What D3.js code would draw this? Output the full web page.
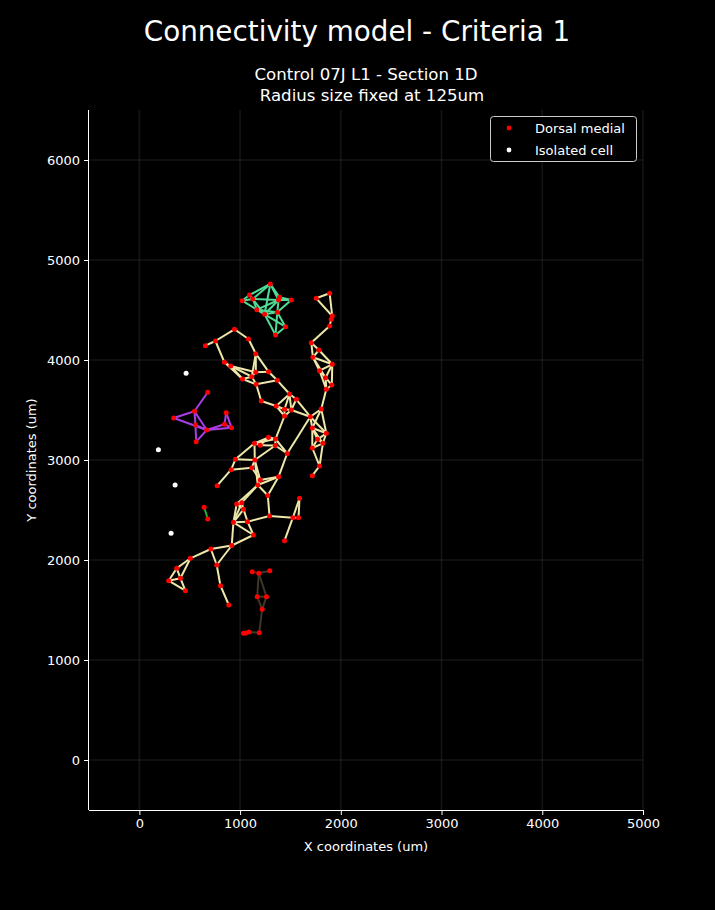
<!DOCTYPE html>
<html><head><meta charset="utf-8">
<script src="https://cdn.jsdelivr.net/npm/d3@7"></script>
<style>
html,body{margin:0;padding:0;background:#000;}
svg{display:block;font-family:"DejaVu Sans",sans-serif;}
</style></head>
<body>
<script>
// ---------- DATA ----------
const xTicks = [0, 1000, 2000, 3000, 4000, 5000];
const yTicks = [0, 1000, 2000, 3000, 4000, 5000, 6000];
const legendLabels = ["Dorsal medial", "Isolated cell"];

// connected component: top cluster (green)
const greenNodes = [[1300,4760],[1093,4650],[1021,4593],[1126,4610],[1392,4627],[1382,4600],[1508,4600],[1166,4503],[1243,4457],[1369,4477],[1451,4333],[1352,4250]];
const greenEdges = [[0,1],[0,3],[0,4],[0,5],[0,8],[1,2],[1,3],[2,3],[2,7],[3,5],[3,7],[3,8],[4,6],[5,6],[5,7],[5,8],[5,9],[6,9],[7,8],[7,9],[8,9],[8,10],[8,11],[9,10],[9,11],[10,11]];

// main component (pale yellow)
const yellowNodes = [
 [1756,4617],[1889,4667],[1915,4440],[1905,4407],[1889,4340],[1707,4173],[1782,4100],[1723,4027],[1915,3957],[1789,3893],
 [1849,3823],[1911,3750],[1856,3707],[1806,3510],[1697,3433],[1717,3320],[1856,3267],[1769,3207],[1822,3167],[1717,3120],
 [1789,2940],[1717,2843],[656,4143],[755,4190],[944,4307],[1083,4210],[1156,4063],[845,3977],[907,3940],[1024,3810],
 [1116,3833],[1156,3877],[1282,3883],[1160,3757],[1369,3797],[1491,3660],[1558,3607],[1210,3590],[1359,3540],[1441,3507],
 [1508,3500],[1441,3440],[1143,3167],[1282,3227],[1352,3210],[1200,3147],[1349,3145],[1468,3065],[954,3007],[1146,3000],
 [911,2903],[1116,2923],[772,2743],[1200,2800],[1382,2833],[1176,2750],[1275,2645],[1590,2617],[966,2560],[1017,2573],
 [1034,2507],[934,2377],[1074,2383],[1292,2440],[1524,2423],[1580,2423],[1133,2250],[917,2145],[1441,2193],[710,2110],
 [507,2017],[768,1950],[371,1917],[408,1817],[291,1793],[457,1693],[805,1743],[888,1550]];
const yellowEdges = [
 [0,1],[0,2],[1,2],[2,3],[3,4],[4,5],[5,6],[5,7],[6,7],[6,8],[7,8],[7,9],[7,10],[8,9],[8,10],[8,11],[9,10],[9,12],[10,11],[10,12],[11,12],
 [12,13],[13,14],[13,15],[13,16],[14,15],[14,16],[15,16],[15,17],[15,18],[15,19],[16,17],[16,18],[17,18],[17,19],[18,19],[19,20],[18,20],[20,21],
 [14,36],[14,40],[14,47],
 [22,23],[23,24],[24,25],[25,26],[23,27],[27,28],[27,29],[28,29],[28,30],[28,31],[26,30],[26,31],[26,32],[29,30],[29,33],[30,31],[30,33],[31,32],
 [32,34],[33,34],[33,37],[34,35],[35,36],[35,38],[35,39],[35,40],[36,40],[37,38],[38,39],[38,41],[39,40],[39,41],[40,41],[41,44],
 [42,43],[42,44],[42,45],[42,48],[42,49],[43,44],[43,45],[44,46],[45,46],[44,47],[46,47],[46,49],[48,49],[48,50],[50,51],[49,51],[49,53],[51,53],[50,52],
 [47,54],[53,54],[55,54],[53,55],[49,55],[55,56],[54,56],[56,63],[55,58],[55,59],[58,59],[58,60],[59,60],[58,61],[59,61],[60,61],[60,62],[61,62],
 [61,66],[62,66],[62,63],[63,64],[64,65],[64,57],[65,57],[64,68],[61,67],[66,67],[67,69],[69,70],[69,71],[67,71],
 [70,72],[70,73],[72,74],[72,73],[74,73],[74,75],[73,75],[71,76],[76,77]];

// purple component
const purpleNodes = [[679,3677],[547,3487],[341,3420],[557,3350],[669,3300],[564,3183],[862,3473],[845,3357],[915,3323]];
const purpleEdges = [[0,1],[1,2],[2,4],[1,3],[1,4],[3,4],[3,5],[4,5],[4,7],[4,8],[7,8],[6,7],[6,8]];

// small green pair
const pairNodes = [[643,2527],[679,2410]];
const pairEdges = [[0,1]];

// dark bottom component
const darkNodes = [[1120,1883],[1186,1867],[1295,1893],[1170,1633],[1262,1633],[1219,1507],[1034,1267],[1054,1270],[1087,1280],[1190,1273]];
const darkEdges = [[0,1],[1,2],[1,3],[1,4],[3,4],[3,5],[4,5],[5,9],[9,8],[8,7],[7,6]];

// isolated cells
const isolatedCells = [[464,3867],[189,3103],[355,2750],[315,2267]];

// ---------- CHART ----------
const W = 715, H = 910;
const svg = d3.select("body").append("svg").attr("width", W).attr("height", H);
svg.append("rect").attr("width", W).attr("height", H).attr("fill", "#000");

const x = d3.scaleLinear().domain([-500, 5000]).range([89, 643]);
const y = d3.scaleLinear().domain([-500, 6500]).range([810, 110]);

// grid
const g = svg.append("g");
g.selectAll(".gx").data(xTicks).join("line")
  .attr("x1", d => x(d)).attr("x2", d => x(d)).attr("y1", 110).attr("y2", 810)
  .attr("stroke", "#fff").attr("stroke-opacity", 0.08).attr("stroke-width", 1.6);
g.selectAll(".gy").data(yTicks).join("line")
  .attr("y1", d => y(d)).attr("y2", d => y(d)).attr("x1", 89).attr("x2", 643)
  .attr("stroke", "#fff").attr("stroke-opacity", 0.08).attr("stroke-width", 1.6);

// components
const comps = [
  {nodes: yellowNodes, edges: yellowEdges, color: "#eee8aa"},
  {nodes: greenNodes, edges: greenEdges, color: "#4fdc96"},
  {nodes: purpleNodes, edges: purpleEdges, color: "#aa3ee6"},
  {nodes: pairNodes, edges: pairEdges, color: "#1fae3c"},
  {nodes: darkNodes, edges: darkEdges, color: "#3e3628"}
];
comps.forEach(c => {
  g.append("g").selectAll("line").data(c.edges).join("line")
    .attr("x1", e => x(c.nodes[e[0]][0])).attr("y1", e => y(c.nodes[e[0]][1]))
    .attr("x2", e => x(c.nodes[e[1]][0])).attr("y2", e => y(c.nodes[e[1]][1]))
    .attr("stroke", c.color).attr("stroke-width", 2).attr("stroke-linecap", "butt");
});
comps.forEach(c => {
  g.append("g").selectAll("circle").data(c.nodes).join("circle")
    .attr("cx", d => x(d[0])).attr("cy", d => y(d[1])).attr("r", 2.5).attr("fill", "#ff0000");
});
g.append("g").selectAll("circle").data(isolatedCells).join("circle")
  .attr("cx", d => x(d[0])).attr("cy", d => y(d[1])).attr("r", 2.5).attr("fill", "#ffffff");

// axes
const xAxis = svg.append("g").attr("transform", "translate(0,810)")
  .call(d3.axisBottom(x).tickValues(xTicks).tickSize(5).tickPadding(4).tickFormat(d3.format("d")));
const yAxis = svg.append("g").attr("transform", "translate(89,0)")
  .call(d3.axisLeft(y).tickValues(yTicks).tickSize(5).tickPadding(4).tickFormat(d3.format("d")));
[xAxis, yAxis].forEach(a => {
  a.select(".domain").attr("stroke", "#fff").attr("stroke-width", 1);
  a.selectAll(".tick line").attr("stroke", "#fff");
  a.selectAll(".tick text").attr("fill", "#fff").style("font-size", "13px").style("font-family", "DejaVu Sans");
});
xAxis.select(".domain").attr("d", "M89,0.5H643");
yAxis.select(".domain").attr("d", "M-0.5,110V810");

// labels
svg.append("text").attr("x", 366).attr("y", 851).attr("text-anchor", "middle")
  .attr("fill", "#fff").style("font-size", "13px").text("X coordinates (um)");
svg.append("text").attr("transform", "translate(36,460) rotate(-90)").attr("text-anchor", "middle")
  .attr("fill", "#fff").style("font-size", "13px").text("Y coordinates (um)");

// titles
svg.append("text").attr("x", 357).attr("y", 41).attr("text-anchor", "middle")
  .attr("fill", "#fff").style("font-size", "27.8px").text("Connectivity model - Criteria 1");
svg.append("text").attr("x", 366).attr("y", 80).attr("text-anchor", "middle")
  .attr("fill", "#fff").style("font-size", "16.6px").text("Control 07J L1 - Section 1D");
svg.append("text").attr("x", 372).attr("y", 101).attr("text-anchor", "middle")
  .attr("fill", "#fff").style("font-size", "16.6px").text("Radius size fixed at 125um");

// legend
const lg = svg.append("g");
lg.append("rect").attr("x", 490.5).attr("y", 116.5).attr("width", 146).attr("height", 45).attr("rx", 3)
  .attr("fill", "#000").attr("stroke", "#cccccc").attr("stroke-width", 1);
const legColors = ["#ff0000", "#ffffff"];
legendLabels.forEach((t, i) => {
  lg.append("circle").attr("cx", 509).attr("cy", 128 + i * 22).attr("r", 2.4).attr("fill", legColors[i]);
  lg.append("text").attr("x", 535).attr("y", 133 + i * 22).attr("fill", "#fff").style("font-size", "13px").text(t);
});
</script>
</body></html>
